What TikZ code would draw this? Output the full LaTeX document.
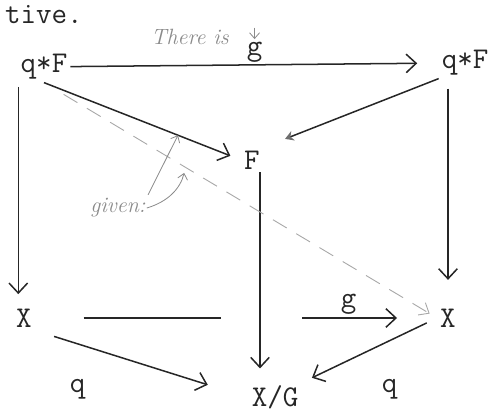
\documentclass[tikz,border=0pt]{standalone}
\usepackage{tikz}
\usetikzlibrary{
  arrows.meta,
  positioning,
  calc
}
\definecolor{twInk}{HTML}{262626}
\definecolor{twPencil}{HTML}{8A8A8A}
\definecolor{twDash}{HTML}{A8A8A8}
\definecolor{twSmudge}{HTML}{6E6E6E}
\tikzset{
  obj/.style={font=\ttfamily\fontsize{30}{34}\selectfont, text=twInk, inner sep=3pt},
  lbl/.style={obj, inner sep=2pt},
  map/.style={-{Straight Barb[length=3.5mm, width=6.5mm]}, line width=1.5pt, twInk},
  bar/.style={line width=1.5pt, twInk},
  lift/.style={-{Straight Barb[length=3mm, width=5mm]}, line width=0.9pt, twDash, dash pattern=on 16pt off 11pt},
  note/.style={font=\itshape\fontsize{22}{24}\selectfont, text=twPencil, inner sep=1pt},
  pointer/.style={-{Straight Barb[length=2mm, width=3.5mm]}, line width=0.8pt, twPencil}
}

\begin{document}
\begin{tikzpicture}
  \useasboundingbox (0,0) rectangle (17.22,14.49);
  \node[obj, inner sep=0pt, anchor=base west] (tive) at (0.17,13.66) {tive.};
  \node[obj] (qFl) at (1.54,12.15) {q*F};
  \node[obj] (qFr) at (16.28,12.29) {q*F};
  \node[obj] (F) at (8.82,8.89) {F};
  \node[obj] (Xl) at (0.84,3.36) {X};
  \node[obj] (Xr) at (15.68,3.36) {X};
  \node[obj, anchor=base] (XG) at (9.63,0.25) {X/G};
  \node[note] (there) at (6.65,13.2) {There is};
  \node[note] (given) at (4.13,7.21) {given:};

  \draw[map, shorten >=7.5mm] (qFl) -- (qFr) node[lbl, midway, above] (gtop) {g};
  \draw[map, shorten >=4mm] (qFl.south) -- (F.west) coordinate[pos=0.68] (onGiven);
  \draw[line width=1.5pt, twInk, -{Stealth[length=3mm, width=3.5mm, color=twSmudge]}, shorten >=8.3mm] (qFr.south west) -- (F.north east);
  \draw[map, shorten <=1.5mm, shorten >=4mm] ($(Xl.north |- qFl.south)+(-0.2,0)$) -- ($(Xl.north)+(-0.2,0)$);
  \draw[map, shorten <=3.5mm, shorten >=9mm] (Xr.north |- qFr.south) -- (Xr.north);
  \draw[map, shorten >=5mm] ($(F.south)+(0.28,0)$) -- ($(F.south |- XG.north)+(0.28,0)$);

  \coordinate (cut) at ($(F.south |- Xl.east)+(0.28,0)$);
  \draw[bar, shorten <=17mm, shorten >=13.5mm] (Xl.east) -- (cut);
  \draw[map, shorten <=14.8mm, shorten >=14mm] (cut) -- (Xr.west) node[lbl, midway, above=1pt] (gbot) {g};

  \draw[lift, shorten <=8mm, shorten >=3mm] (qFl.south) -- (Xr.west) coordinate[pos=0.36] (onLift);

  \draw[map, shorten <=7mm, shorten >=15mm] (Xl.south east) -- (XG.west) node[lbl, pos=0.2, below=11.5mm] (ql) {q};
  \draw[map, shorten <=4mm, shorten >=4mm] (Xr.west) -- (XG.north east) node[lbl, pos=0.35, below=12.5mm] (qr) {q};

  \draw[pointer, shorten <=1mm] (gtop.north) ++(0,0.5) -- (gtop.north);
  \draw[pointer, shorten <=1mm] (given.north east) -- (onGiven);
  \draw[pointer, shorten >=2mm] (given.east) to[bend right=30] (onLift);
\end{tikzpicture}
\end{document}
